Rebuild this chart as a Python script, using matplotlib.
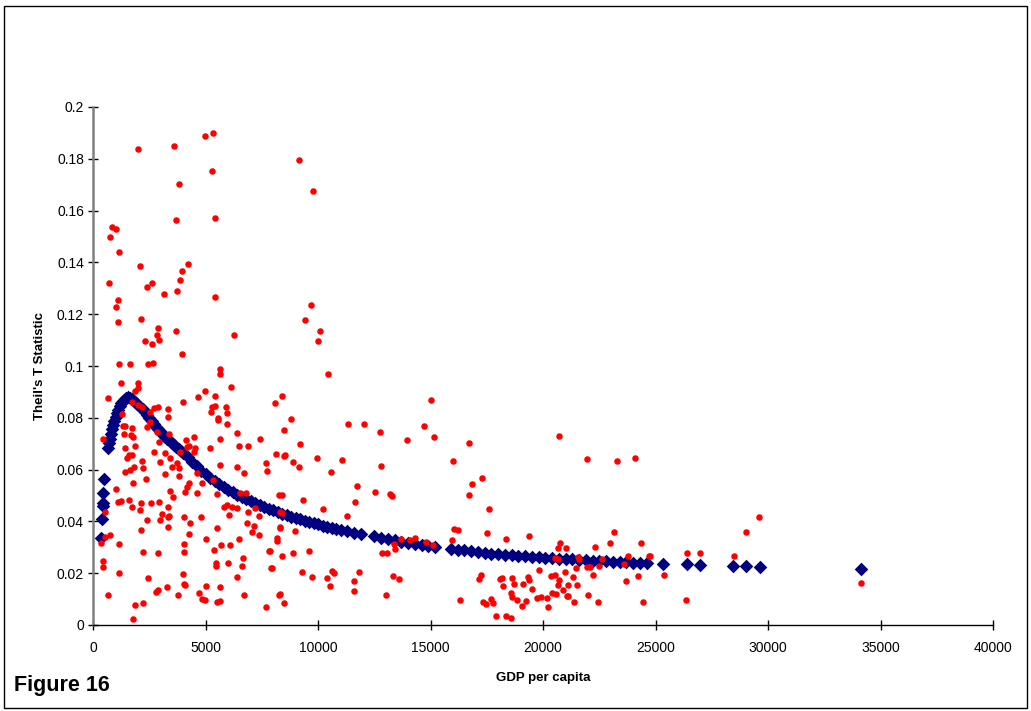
import matplotlib
matplotlib.use("Agg")
import matplotlib.pyplot as plt
from matplotlib.patches import Rectangle

plt.rcParams['font.family'] = ['Liberation Sans', 'DejaVu Sans']

# observed country points (GDP per capita, Theil's T)
red_gdp = [
    2000, 3580, 4980, 5330, 5300, 3800, 3670, 5400, 850, 1030,
    740, 1140, 2090, 4220, 3960, 3880, 9150, 9790, 9700, 9400,
    10110, 9990, 10440, 8400, 8110, 8810, 8510, 9220, 11340, 12040,
    12750, 13960, 15010, 14710, 15150, 16710, 730, 2380, 2640, 3750,
    3140, 5430, 1100, 1030, 1100, 2140, 2890, 3690, 6280, 2860,
    2930, 2300, 2620, 3960, 1170, 1650, 2460, 2650, 5660, 5630,
    1230, 2020, 1990, 1850, 6130, 4980, 4650, 5430, 4000, 680,
    1740, 2000, 2180, 2890, 2700, 3320, 5290, 5400, 5910, 1270,
    3330, 2550, 5260, 5970, 5540, 5550, 2520, 5950, 1320, 1440,
    1740, 2400, 2850, 3390, 6400, 1360, 1690, 1780, 2920, 4150,
    4500, 5660, 7430, 6890, 6470, 5210, 4250, 4550, 430, 1850,
    1440, 4180, 4500, 8130, 2700, 3210, 3880, 1590, 1740, 1510,
    2180, 2990, 3440, 3730, 1810, 2220, 3510, 3810, 1440, 1660,
    5660, 6400, 7670, 7730, 6690, 3180, 3840, 4620, 1760, 2360,
    4250, 4180, 4840, 5330, 1040, 3440, 4100, 4620, 5510, 6540,
    6800, 3560, 8250, 1100, 1250, 1590, 1740, 2140, 2580, 2930,
    3320, 2100, 5800, 5950, 6180, 6400, 7210, 550, 3070, 3360,
    6060, 6870, 7360, 8320, 2400, 2990, 3320, 4030, 4800, 6840,
    4290, 2150, 3350, 5520, 7140, 8290, 770, 4250, 7360, 7060,
    550, 5040, 6470, 370, 1170, 4060, 5700, 6100, 7800, 2220,
    2890, 4030, 5390, 450, 450, 6660, 5450, 5470, 6000, 6600,
    7930, 1170, 6420, 4000, 2450, 4030, 4100, 5020, 5660, 3290,
    2800, 2890, 3780, 4720, 4860, 4990, 5510, 5630, 6690, 8280,
    680, 1850, 2220, 7700, 1760, 8470, 8540, 9950, 11060, 8910,
    9160, 10590, 12790, 16020, 11730, 12540, 13200, 13310, 8380, 9330,
    11660, 16710, 10240, 8400, 11280, 8320, 8970, 16060, 16240, 8170,
    8170, 13680, 14090, 14310, 14800, 15100, 15940, 13380, 13430, 9580,
    8880, 7880, 8400, 12840, 13080, 7950, 9280, 10620, 10690, 9730,
    10420, 11820, 13320, 13620, 11610, 10540, 11610, 8320, 13030, 8470,
    16310, 20710, 21940, 23270, 24080, 17280, 16860, 17600, 17500, 19360,
    18340, 23160, 22960, 24350, 20770, 22310, 20660, 21010, 23760, 24690,
    20530, 20680, 21570, 21600, 22600, 23590, 21460, 21940, 22090, 22500,
    19820, 17250, 17170, 18090, 18190, 18630, 19320, 19390, 20340, 20530,
    20960, 21320, 22200, 23680, 24230, 18240, 18720, 19120, 19520, 20720,
    20680, 21120, 21520, 20870, 18580, 18630, 20380, 20560, 21050, 21120,
    22000, 17700, 17790, 17350, 17450, 18860, 19260, 19720, 19900, 20190,
    21370, 22440, 24440, 19080, 20210, 17910, 18340, 18560,
    24750, 26400, 26980, 28470, 29010, 29600, 25380, 26350, 34150,
]
red_theil = [
    .1838, .1848, .1887, .1900, .1753, .1704, .1563, .1573, .1536, .1528,
    .1499, .1441, .1386, .1395, .1367, .1332, .1797, .1677, .1236, .1176,
    .1135, .1095, .0968, .0885, .0856, .0795, .0752, .0700, .0776, .0776,
    .0744, .0715, .0868, .0768, .0725, .0703, .1320, .1306, .1319, .1288,
    .1277, .1268, .1254, .1229, .1171, .1181, .1148, .1135, .1119, .1119,
    .1100, .1097, .1085, .1046, .1007, .1009, .1009, .1012, .0990, .0968,
    .0936, .0936, .0914, .0905, .0920, .0905, .0880, .0884, .0862, .0875,
    .0862, .0849, .0843, .0843, .0839, .0833, .0843, .0846, .0843, .0814,
    .0804, .0824, .0821, .0817, .0800, .0792, .0785, .0777, .0768, .0768,
    .0762, .0766, .0746, .0737, .0741, .0736, .0734, .0727, .0708, .0714,
    .0725, .0718, .0718, .0692, .0690, .0685, .0692, .0682, .0717, .0692,
    .0682, .0688, .0669, .0660, .0669, .0663, .0669, .0656, .0656, .0644,
    .0633, .0631, .0644, .0627, .0611, .0607, .0611, .0605, .0590, .0598,
    .0618, .0611, .0627, .0595, .0586, .0582, .0575, .0586, .0549, .0563,
    .0549, .0534, .0547, .0560, .0524, .0517, .0515, .0511, .0505, .0508,
    .0511, .0493, .0502, .0476, .0480, .0483, .0457, .0470, .0470, .0475,
    .0457, .0444, .0457, .0462, .0457, .0451, .0451, .0435, .0429, .0422,
    .0426, .0437, .0421, .0436, .0404, .0405, .0417, .0418, .0418, .0395,
    .0395, .0367, .0380, .0373, .0382, .0377, .0347, .0351, .0347, .0360,
    .0341, .0332, .0332, .0315, .0312, .0312, .0309, .0309, .0287, .0281,
    .0277, .0281, .0290, .0248, .0223, .0258, .0238, .0228, .0241, .0228,
    .0221, .0200, .0184, .0196, .0183, .0158, .0154, .0152, .0148, .0148,
    .0129, .0135, .0116, .0122, .0100, .0097, .0090, .0093, .0116, .0116,
    .0116, .0077, .0084, .0071, .0023, .0654, .0656, .0644, .0637, .0628,
    .0611, .0592, .0613, .0633, .0536, .0514, .0506, .0499, .0502, .0483,
    .0474, .0502, .0448, .0431, .0422, .0376, .0363, .0369, .0367, .0337,
    .0324, .0332, .0328, .0335, .0320, .0308, .0328, .0314, .0293, .0287,
    .0277, .0287, .0265, .0277, .0277, .0220, .0203, .0208, .0200, .0184,
    .0183, .0203, .0189, .0176, .0170, .0151, .0131, .0119, .0116, .0084,
    .0097, .0729, .0640, .0634, .0644, .0569, .0544, .0448, .0355, .0344,
    .0332, .0359, .0318, .0318, .0318, .0302, .0296, .0296, .0266, .0265,
    .0260, .0256, .0263, .0254, .0255, .0236, .0219, .0223, .0225, .0228,
    .0211, .0193, .0176, .0176, .0180, .0183, .0186, .0173, .0189, .0194,
    .0203, .0186, .0194, .0170, .0190, .0149, .0158, .0158, .0140, .0174,
    .0154, .0154, .0154, .0134, .0122, .0107, .0125, .0121, .0112, .0112,
    .0116, .0099, .0085, .0090, .0081, .0098, .0094, .0103, .0108, .0104,
    .0090, .0090, .0088, .0072, .0071, .0035, .0036, .0027,
    .0266, .0278, .0279, .0266, .0358, .0416, .0194, .0098, .0162,
]

# fitted values (blue diamonds)
fit_gdp = [
    370, 410, 440, 450, 460, 470,
    680, 720, 760, 800, 850, 900, 950, 1000, 1060, 1120, 1180, 1250, 1320, 1400,
    1480, 1560, 1650, 1740, 1830, 1920, 2010, 2100, 2200, 2300, 2400, 2500,
    2600, 2700, 2800, 2900, 3000, 3100, 3200, 3300, 3400, 3500, 3600, 3700,
    3800, 3900, 4000, 4200, 4400, 4600, 4800, 5000, 5200, 5400, 5600, 5800,
    6000, 6200, 6400, 6600, 6800, 7000, 7200, 7400, 7600, 7800, 8000, 8200,
    8400, 8600, 8800, 9000, 9200, 9400, 9600, 9800, 10000, 10200, 10400,
    10600, 10800, 11000, 11300, 11600, 11900, 12500, 12800, 13100, 13400,
    13700, 14000, 14300, 14600, 14900, 15200, 15900, 16200, 16500, 16800,
    17100, 17400, 17700, 18000, 18300, 18600, 18900, 19200, 19500, 19800,
    20100, 20400, 20700, 21000, 21300, 21600, 21900, 22200, 22500, 22800,
    23100, 23400, 23700, 24000, 24300, 24600, 25340, 26380, 26970, 28450,
    29040, 29630, 34150,
]
fit_theil = [
    .0336, .0409, .0460, .0471, .0510, .0564,
    .0683, .0703, .0720, .0737, .0755, .0772, .0788, .0802, .0817, .0831, .0845, .0856, .0866, .0874,
    .0878, .0879, .0877, .0872, .0866, .0859, .0851, .0843, .0833, .0822, .0810, .0799,
    .0788, .0777, .0766, .0755, .0745, .0735, .0726, .0717, .0709, .0701, .0694, .0687,
    .0680, .0673, .0666, .0648, .0630, .0612, .0596, .0582, .0569, .0557, .0545, .0534,
    .0523, .0513, .0503, .0494, .0485, .0477, .0470, .0463, .0456, .0449, .0443, .0436,
    .0430, .0424, .0418, .0413, .0408, .0403, .0398, .0393, .0389, .0384, .0380,
    .0376, .0372, .0368, .0362, .0357, .0352, .0342, .0337, .0332, .0327,
    .0322, .0318, .0314, .0310, .0306, .0302, .0294, .0291, .0288, .0285,
    .0282, .0279, .0276, .0274, .0272, .0270, .0268, .0266, .0264, .0262,
    .0260, .0258, .0256, .0255, .0253, .0251, .0250, .0248, .0247, .0246,
    .0244, .0243, .0242, .0241, .0240, .0239, .0236, .0234, .0232, .0228,
    .0226, .0224, .0216,
]

x_ticks = [0, 5000, 10000, 15000, 20000, 25000, 30000, 35000, 40000]
y_ticks = [0, 0.02, 0.04, 0.06, 0.08, 0.1, 0.12, 0.14, 0.16, 0.18, 0.2]
y_tick_labels = ['0', '0.02', '0.04', '0.06', '0.08', '0.1', '0.12', '0.14', '0.16', '0.18', '0.2']

fig = plt.figure(figsize=(10.31, 7.11), dpi=100)
ax = fig.add_axes([93 / 1031, 86 / 711, 900 / 1031, 518 / 711])

ax.scatter(fit_gdp, fit_theil, marker='D', s=48, color='#000080', linewidths=0, zorder=2)
ax.scatter(red_gdp, red_theil, marker='o', s=22, color='#FF0000', linewidths=0, zorder=3)

ax.set_xlim(0, 40000)
ax.set_ylim(0, 0.2)
ax.set_xticks(x_ticks)
ax.set_xticklabels([str(v) for v in x_ticks])
ax.set_yticks(y_ticks)
ax.set_yticklabels(y_tick_labels)

ax.spines['top'].set_visible(False)
ax.spines['right'].set_visible(False)
ax.spines['left'].set_color('#808080')
ax.spines['left'].set_linewidth(1.8)
ax.spines['bottom'].set_linewidth(1.0)
ax.tick_params(axis='both', direction='inout', length=7, width=1, labelsize=10, colors='black')
ax.tick_params(axis='y', pad=3)
ax.tick_params(axis='x', pad=8)

ax.set_xlabel('GDP per capita', fontsize=9.5, fontweight='bold', labelpad=12)
ax.set_ylabel("Theil's T Statistic", fontsize=9.5, fontweight='bold', labelpad=8)

fig.text(14 / 1031, 1 - 685 / 711, 'Figure 16', fontsize=15.5, fontweight='bold', va='center', ha='left')

fig.patches.append(Rectangle((4 / 1031, 3 / 711), 1023 / 1031, 702 / 711, transform=fig.transFigure,
                             fill=False, edgecolor='black', linewidth=1))

fig.savefig('out.png', dpi=100)
